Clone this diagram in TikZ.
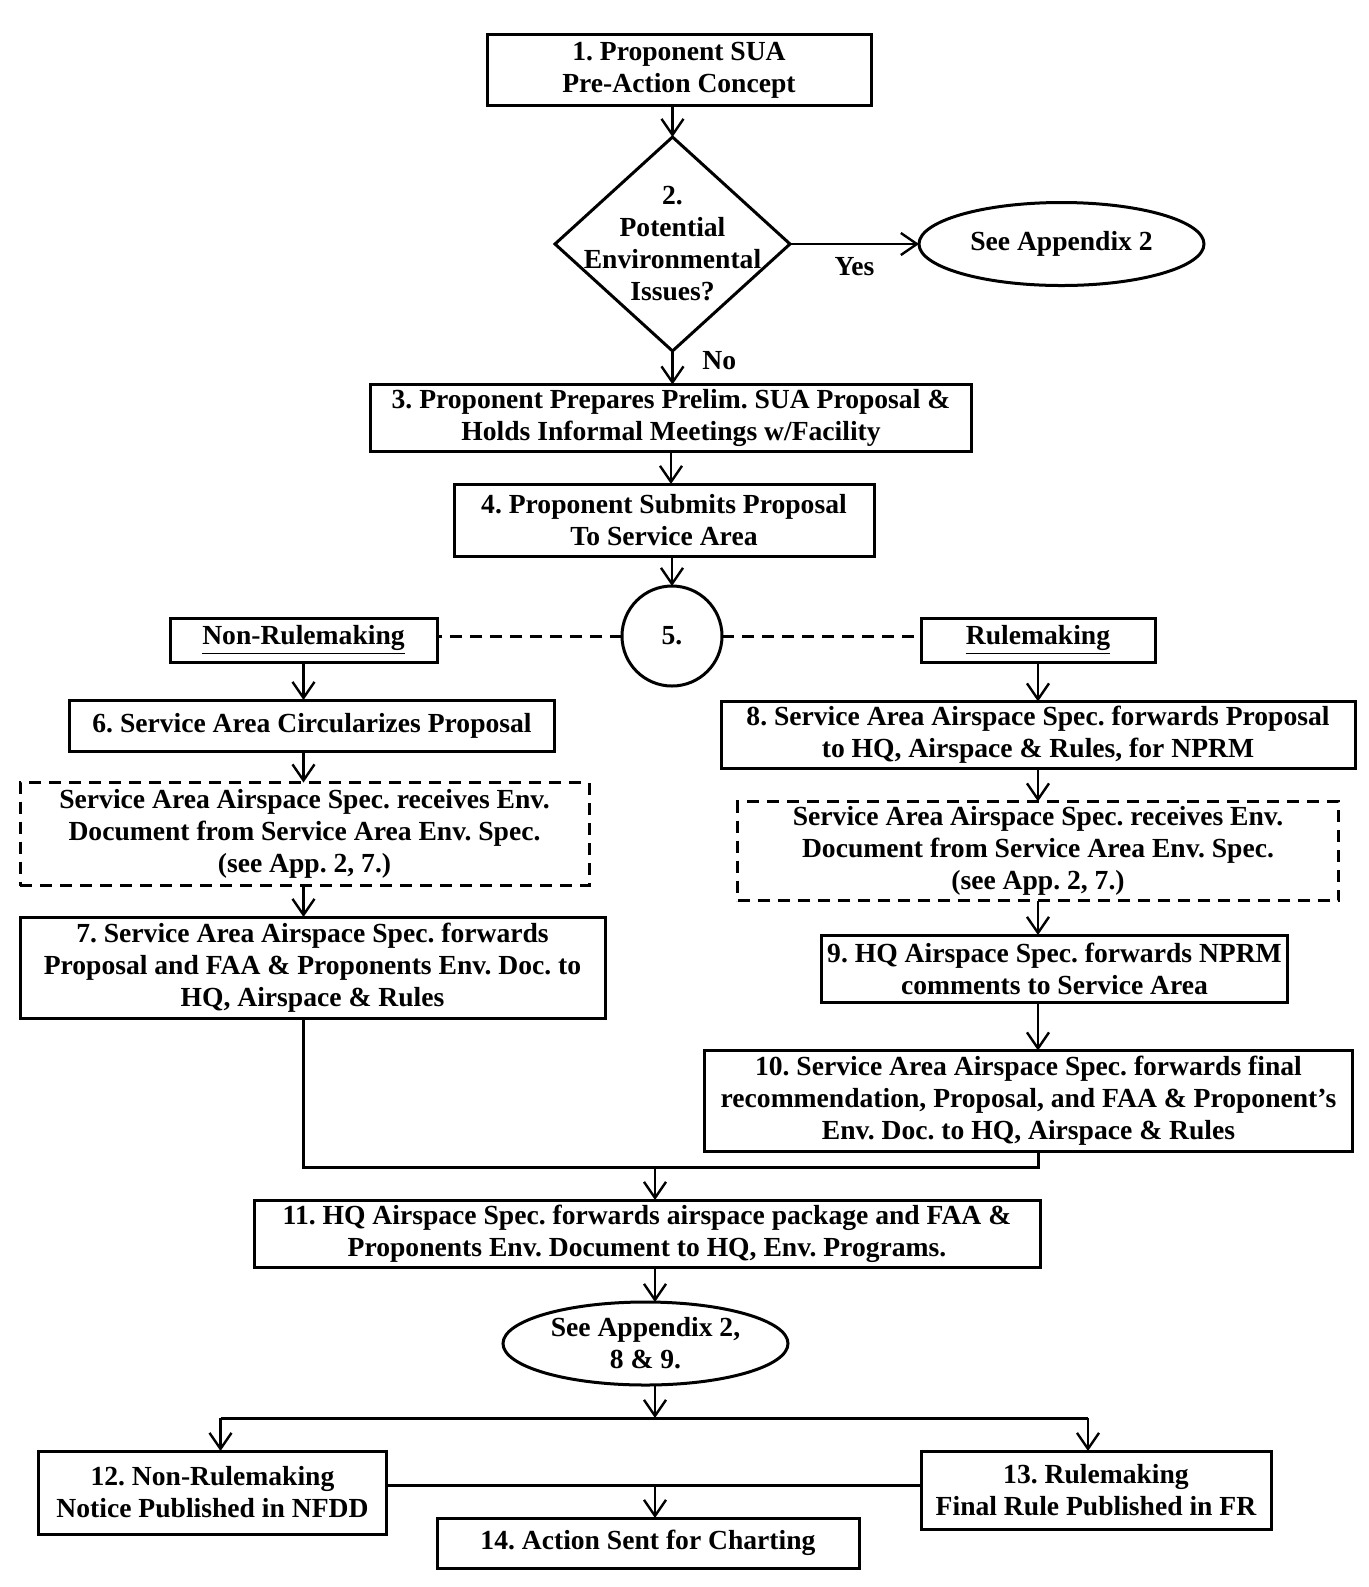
\documentclass[tikz,border=0pt]{standalone}
\usepackage{fontspec}
\setmainfont{Liberation Serif}
\usetikzlibrary{positioning, arrows.meta, shapes.geometric}
\tikzset{%
  box/.style={draw, rectangle, line width=1.5pt, inner sep=0pt, outer sep=0pt, align=center},
  envbox/.style={box, dash pattern=on 6pt off 4pt},
  decision/.style={draw, diamond, line width=1.5pt, inner sep=0pt, outer sep=0pt},
  appx/.style={draw, ellipse, line width=1.5pt, inner sep=0pt, outer sep=0pt, align=center,
    minimum width=142.5pt, minimum height=41.5pt},
  branch/.style={draw, circle, line width=1.5pt, inner sep=0pt, outer sep=0pt, minimum size=50pt},
  link/.style={->, line width=1.2pt},
  dashlink/.style={line width=1.5pt, dash pattern=on 6pt off 4pt}
}

\begin{document}
\frenchspacing
\begin{tikzpicture}[x=1pt, y=-1pt, >={Straight Barb[length=8pt, width=11pt]},
  font=\fontsize{13.8pt}{16pt}\selectfont\bfseries]

\useasboundingbox (0,0) rectangle (684.5,793.5);

% main column
\node[box, minimum width=192pt, minimum height=35.5pt] (p1) at (339.5,35) {1. Proponent SUA\\Pre-Action Concept};
\node[decision, minimum width=117.5pt, minimum height=107pt, below=15.75pt of p1, xshift=-3.25pt] (d2) {};
\node[align=center] (d2t) at (d2) {2.\\Potential\\Environmental\\Issues?};
\node[appx, right=64.5pt of d2] (a2) {See Appendix 2};
\node[box, minimum width=300.5pt, minimum height=33.5pt, below=16.75pt of d2, xshift=-0.75pt] (p3) {3. Proponent Prepares Prelim. SUA Proposal \&\\Holds Informal Meetings w/Facility};
\node[box, minimum width=210pt, minimum height=36pt, below=16.25pt of p3, xshift=-3.5pt] (p4) {4. Proponent Submits Proposal\\To Service Area};
\node[branch, below=15pt of p4, xshift=4pt] (c5) {5.};

% non-rulemaking side
\node[box, minimum width=133.5pt, minimum height=22pt, left=92.5pt of c5, yshift=-2pt] (nr) {\underline{Non-Rulemaking}};
\node[box, minimum width=242.5pt, minimum height=25.5pt, below=19pt of nr, xshift=4.25pt] (p6) {6. Service Area Circularizes Proposal};
\node[envbox, minimum width=284.5pt, minimum height=51.5pt, below=15.75pt of p6, xshift=-3.75pt] (e1) {Service Area Airspace Spec. receives Env.\\Document from Service Area Env. Spec.\\(see App. 2, 7.)};
\node[box, minimum width=292.5pt, minimum height=50.5pt, below=15.75pt of e1, xshift=4pt] (p7) {7. Service Area Airspace Spec. forwards\\Proposal and FAA \& Proponents Env. Doc. to\\HQ, Airspace \& Rules};

% rulemaking side
\node[box, minimum width=117pt, minimum height=22pt, right=99.5pt of c5, yshift=-2pt] (rm) {\underline{Rulemaking}};
\node[box, minimum width=317pt, minimum height=33.5pt, below=19.75pt of rm] (p8) {8. Service Area Airspace Spec. forwards Proposal\\to HQ, Airspace \& Rules, for NPRM};
\node[envbox, minimum width=300.5pt, minimum height=49.5pt, below=16.5pt of p8] (e2) {Service Area Airspace Spec. receives Env.\\Document from Service Area Env. Spec.\\(see App. 2, 7.)};
\node[box, minimum width=233pt, minimum height=33.5pt, below=17.25pt of e2, xshift=8.25pt] (p9) {9. HQ Airspace Spec. forwards NPRM\\comments to Service Area};
\node[box, minimum width=324pt, minimum height=50.5pt, below=24.25pt of p9, xshift=-13pt] (p10) {10. Service Area Airspace Spec. forwards final\\recommendation, Proposal, and FAA \& Proponent’s\\Env. Doc. to HQ, Airspace \& Rules};

% bottom part
\coordinate (j) at (327.5,583.5);
\coordinate (s) at (327.5,709);
\coordinate (m) at (327.5,742.5);
\node[box, minimum width=393pt, minimum height=33.5pt] (p11) at (323.5,616.75) {11. HQ Airspace Spec. forwards airspace package and FAA \&\\Proponents Env. Document to HQ, Env. Programs.};
\node[appx, below=17.5pt of p11, xshift=-0.75pt] (a289) {See Appendix 2,\\8 \& 9.};
\node[box, minimum width=174pt, minimum height=41.5pt] (p12) at (106.25,746.25) {12. Non-Rulemaking\\Notice Published in NFDD};
\node[box, minimum width=175pt, minimum height=39pt] (p13) at (548,745) {13. Rulemaking\\Final Rule Published in FR};
\node[box, minimum width=211pt, minimum height=25pt] (p14) at (324,771.5) {14. Action Sent for Charting};

\draw[link] (p1.south -| d2.north) -- (d2.north);
\draw[link] (d2.east) -- (a2.west |- d2.east) node[midway, below=3pt] {Yes};
\draw[link] (d2.south) -- (d2.south |- p3.north) node[pos=0.3, right=11pt] {No};
\draw[link] (p3.south) -- (p3.south |- p4.north);
\draw[link] (p4.south -| c5.north) -- (c5.north);
\draw[dashlink] (c5.west) -- (c5.west -| nr.east);
\draw[dashlink] (c5.east) -- (c5.east -| rm.west);

\draw[link] (nr.south) -- (nr.south |- p6.north);
\draw[link] (nr.south |- p6.south) -- (nr.south |- e1.north);
\draw[link] (nr.south |- e1.south) -- (nr.south |- p7.north);

\draw[link] (rm.south) -- (rm.south |- p8.north);
\draw[link] (rm.south |- p8.south) -- (rm.south |- e2.north);
\draw[link] (rm.south |- e2.south) -- (rm.south |- p9.north);
\draw[link] (rm.south |- p9.south) -- (rm.south |- p10.north);

\draw[line width=1.5pt] (nr |- p7.south) -- (nr |- j) -- (rm |- j) -- (rm |- p10.south);
\draw[link] (j) -- (j |- p11.north);
\draw[link] (j |- p11.south) -- (j |- a289.north);
\draw[link] (j |- a289.south) -- (s);
\draw[line width=1.5pt] ([xshift=4pt]p12.north |- s) -- ([xshift=-4pt]p13.north |- s);
\draw[link] ([xshift=4pt]p12.north |- s) -- ([xshift=4pt]p12.north);
\draw[link] ([xshift=-4pt]p13.north |- s) -- ([xshift=-4pt]p13.north);
\draw[line width=1.5pt] (p12.east |- m) -- (p13.west |- m);
\draw[link] (m) -- (m |- p14.north);

\end{tikzpicture}
\end{document}
